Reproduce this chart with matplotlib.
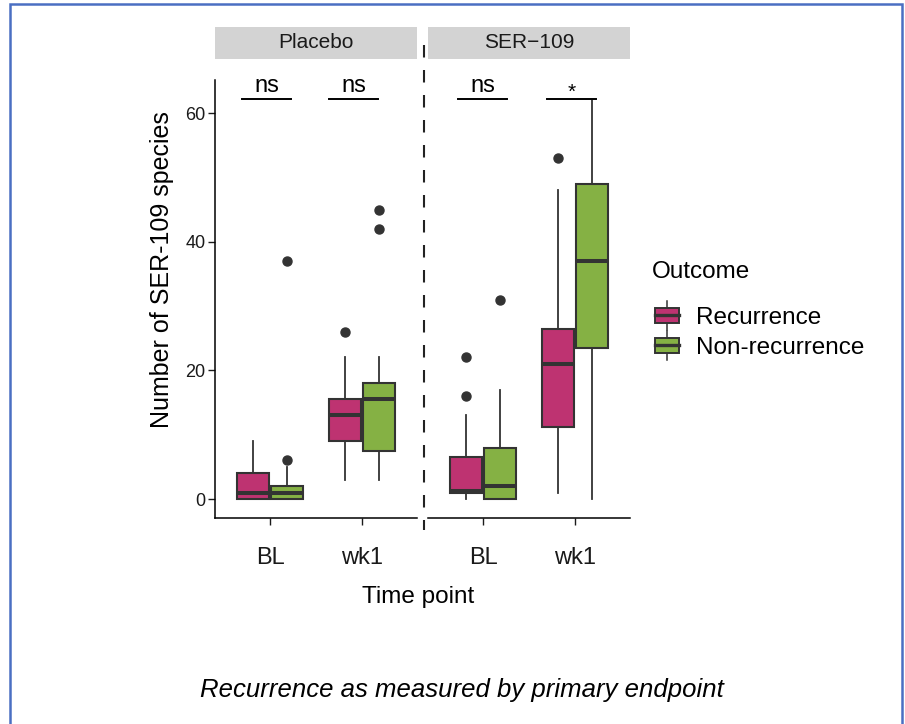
"""
Boxplots of SER-109 species counts by time point, outcome and treatment arm
"""

import matplotlib.pyplot as plt
from matplotlib.patches import Rectangle
from matplotlib.lines import Line2D
from matplotlib.legend_handler import HandlerBase

plt.rcParams['font.family'] = ['Liberation Sans', 'DejaVu Sans']

# ---- data ----
arms = ["Placebo", "SER\u2212109"]
timepoints = ["BL", "wk1"]
outcomes = ["Recurrence", "Non-recurrence"]
colors = ["#BE3371", "#85B144"]

# per arm: [BL-Rec, BL-NonRec, wk1-Rec, wk1-NonRec]
whislo = [[0, 0, 3, 3], [0, 0, 1, 0]]
q1 = [[0, 0, 9, 7.5], [1, 0, 11.2, 23.5]]
med = [[1, 1, 13, 15.5], [1.2, 2, 21, 37]]
q3 = [[4, 2, 15.5, 18], [6.5, 8, 26.5, 49]]
whishi = [[9, 5, 22, 22], [13, 17, 48, 62]]
fliers = [[[], [6, 37], [26], [42, 45]],
          [[16, 22], [31], [53], []]]

# significance labels per arm / time point, bar height and x extents
sig_labels = [["ns", "ns"], ["ns", "*"]]
sig_y = 62.2
sig_x = [[(0.694, 1.228), (1.642, 2.176)],
         [(0.727, 1.260), (1.696, 2.230)]]

W, H = 905, 724
DARK = "#333333"


def fx(px):
    return px / W


def fy(py):
    return 1 - py / H


class BoxKey(HandlerBase):
    """small boxplot glyph for legend keys"""

    def create_artists(self, legend, orig_handle, xdescent, ydescent,
                       width, height, fontsize, trans):
        fc = orig_handle.get_facecolor()
        x0, y0 = -xdescent, -ydescent
        cx = x0 + width / 2
        whisk = Line2D([cx, cx], [y0 - 0.45 * height, y0 + 1.45 * height],
                       color=DARK, lw=1.1, transform=trans)
        box = Rectangle((x0, y0), width, height,
                        facecolor=fc, edgecolor=DARK, lw=1.4, transform=trans)
        mline = Line2D([x0, x0 + width], [y0 + height / 2] * 2,
                       color=DARK, lw=2.4, transform=trans)
        return [whisk, box, mline]


fig = plt.figure(figsize=(W / 100, H / 100), dpi=100)

panel_left = [215, 428]
panel_w = 202
top, bottom = 80, 518
offset = 0.1875
box_w = 0.35

for a, arm in enumerate(arms):
    ax = fig.add_axes([fx(panel_left[a]), fy(bottom), fx(panel_w), (bottom - top) / H])
    stats = []
    positions = []
    for t in range(len(timepoints)):
        for o in range(len(outcomes)):
            i = t * 2 + o
            stats.append(dict(whislo=whislo[a][i], q1=q1[a][i], med=med[a][i],
                              q3=q3[a][i], whishi=whishi[a][i], fliers=fliers[a][i]))
            positions.append(t + 1 + (offset if o else -offset))
    bp = ax.bxp(stats, positions=positions, widths=box_w, patch_artist=True,
                showcaps=False,
                boxprops=dict(edgecolor=DARK, linewidth=1.5),
                medianprops=dict(color=DARK, linewidth=2.9, solid_capstyle='butt'),
                whiskerprops=dict(color=DARK, linewidth=1.3),
                flierprops=dict(marker='o', markerfacecolor=DARK, markeredgecolor=DARK,
                                markersize=6.5))
    for k, patch in enumerate(bp['boxes']):
        patch.set_facecolor(colors[k % 2])

    # significance bars
    for t in range(len(timepoints)):
        xa, xb = sig_x[a][t]
        ax.plot([xa, xb], [sig_y, sig_y], color='black', lw=1.4, clip_on=False)
        lab = sig_labels[a][t]
        ax.text((xa + xb) / 2, 63.3 if lab == "ns" else 62.4, lab,
                ha='center', va='baseline', fontsize=17 if lab == "ns" else 15,
                clip_on=False)

    ax.set_xlim(0.4, 2.6)
    ax.set_ylim(-2.95, 65.13)
    ax.set_xticks([1, 2])
    ax.set_xticklabels(timepoints, fontsize=17)
    for s in ['top', 'right']:
        ax.spines[s].set_visible(False)
    ax.spines['bottom'].set_linewidth(1.1)
    ax.tick_params(axis='x', length=5, width=1.0, pad=16, colors='#1a1a1a')
    if a == 0:
        ax.set_yticks([0, 20, 40, 60])
        ax.tick_params(axis='y', length=5, width=1.0, pad=2, labelsize=13, colors='#1a1a1a')
        ax.spines['left'].set_linewidth(1.1)
    else:
        ax.set_yticks([])
        ax.spines['left'].set_visible(False)

    # facet strip
    fig.add_artist(Rectangle((fx(panel_left[a]), fy(59)), fx(panel_w), (59 - 27) / H,
                             facecolor='#D3D3D3', edgecolor='none'))
    fig.text(fx(panel_left[a] + panel_w / 2), fy(43), arm, ha='center', va='center',
             fontsize=15, color='#1a1a1a')

# dashed separator between the panels
fig.add_artist(Line2D([fx(424), fx(424)], [fy(45), fy(530)], color='#222222',
                      lw=1.5, linestyle=(0, (6, 6))))

fig.text(fx(162), fy(270), "Number of SER-109 species", rotation=90,
         ha='center', va='center', fontsize=18)
fig.text(fx(418), fy(597), "Time point", ha='center', va='center', fontsize=17.5)

fig.text(fx(652), fy(272), "Outcome", ha='left', va='center', fontsize=17.5)
handles = [Rectangle((0, 0), 1, 1, facecolor=c) for c in colors]
fig.legend(handles, outcomes, loc='upper left',
           bbox_to_anchor=(fx(655), fy(307)), frameon=False, fontsize=17.5,
           borderpad=0, borderaxespad=0,
           handler_map={Rectangle: BoxKey()}, handlelength=1.0, handleheight=0.6,
           handletextpad=0.7, labelspacing=0.33)

fig.text(fx(462), fy(690), "Recurrence as measured by primary endpoint",
         ha='center', va='center', fontsize=18.5, style='italic')

# outer frame
fig.add_artist(Rectangle((fx(10), fy(740)), fx(892), (740 - 4) / H, fill=False,
                         edgecolor='#4A6FC2', lw=1.8))

plt.savefig("out.png", dpi=100)
